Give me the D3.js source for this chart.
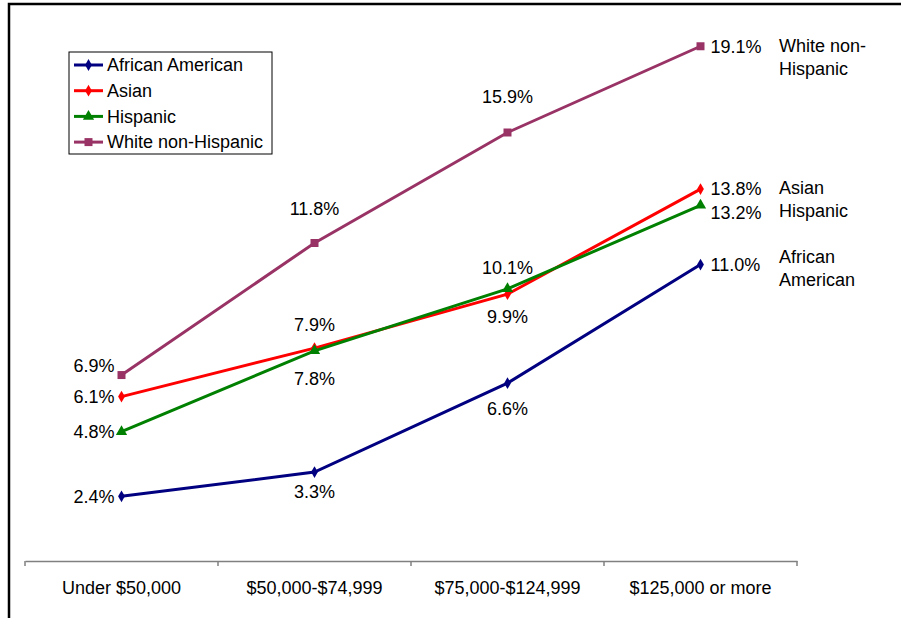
<html>
<script src="https://d3js.org/d3.v7.min.js"></script>
<style>
  body { margin: 0; background: #fff; }
  text { font-family: "Liberation Sans", Arial, sans-serif; font-size: 18px; fill: #000; }
</style>
<body>
<svg width="901" height="618"></svg>
<script>
var categories = ["Under $50,000", "$50,000-$74,999", "$75,000-$124,999", "$125,000 or more"];
var seriesNames = ["African American", "Asian", "Hispanic", "White non-Hispanic"];
var africanAmerican = [2.4, 3.3, 6.6, 11.0];
var asian = [6.1, 7.9, 9.9, 13.8];
var hispanic = [4.8, 7.8, 10.1, 13.2];
var white = [6.9, 11.8, 15.9, 19.1];
var endNames = [["African", "American"], ["Asian"], ["Hispanic"], ["White non-", "Hispanic"]];

var colors = ["#000080", "#ff0000", "#008000", "#993366"];
var symbols = [d3.symbolDiamond, d3.symbolDiamond, d3.symbolTriangle, d3.symbolSquare];
var symSize = [40, 40, 55, 64];
var values = [africanAmerican, asian, hispanic, white];

// per point label placement (dy from point)
var labelDy = [
  [0, 20, 26, 0],
  [0, -23, 23, 0],
  [0, 28, -21, 0],
  [-9, -34, -36, 0]
];
var endDy = [0, 0, 7, 0];
var nameDy = [-8, -1, 5, -1];

var svg = d3.select("svg");

// frame
svg.append("path").attr("d", "M9,618V4H901").attr("fill", "none").attr("stroke", "#000").attr("stroke-width", 2.5);

var x = d3.scaleBand().domain(categories).range([25, 797]);
var y = d3.scaleLinear().domain([0, 20]).range([561, 22]);

// axis
var ax = svg.append("g").attr("transform", "translate(0,561)")
  .call(d3.axisBottom(x).tickSize(0).tickPadding(20));
ax.select(".domain").attr("stroke", "#808080").attr("stroke-width", 1.5);
ax.selectAll("text").style("font-family", "Liberation Sans, Arial, sans-serif").style("font-size", "18px").attr("fill", "#000");
var bounds = categories.map(function(c) { return x(c); }).concat([x(categories[3]) + x.bandwidth()]);
ax.selectAll(".bt").data(bounds).enter().append("line")
  .attr("x1", function(d) { return d; }).attr("x2", function(d) { return d; })
  .attr("y1", 0).attr("y2", 5).attr("stroke", "#808080").attr("stroke-width", 1.5);

var cx = function(i) { return x(categories[i]) + x.bandwidth() / 2; };
var line = d3.line().x(function(d, i) { return cx(i); }).y(function(d) { return y(d); });

values.forEach(function(vals, s) {
  svg.append("path").datum(vals).attr("d", line)
    .attr("fill", "none").attr("stroke", colors[s]).attr("stroke-width", 3);
  svg.selectAll(".m" + s).data(vals).enter().append("path")
    .attr("transform", function(d, i) { return "translate(" + cx(i) + "," + y(d) + ")"; })
    .attr("d", d3.symbol().type(symbols[s]).size(symSize[s]))
    .attr("fill", colors[s]);
  vals.forEach(function(v, i) {
    var t = svg.append("text").text(v.toFixed(1) + "%").attr("dy", "0.35em");
    if (i === 0) {
      t.attr("x", cx(i) - 7).attr("y", y(v) + labelDy[s][i]).attr("text-anchor", "end");
    } else if (i === 3) {
      t.attr("x", cx(i) + 10).attr("y", y(v) + endDy[s]).attr("text-anchor", "start");
    } else {
      t.attr("x", cx(i)).attr("y", y(v) + labelDy[s][i]).attr("text-anchor", "middle");
    }
  });
  var nt = svg.append("text").attr("x", 779).attr("y", y(vals[3]) + nameDy[s]).attr("dy", "0.35em");
  endNames[s].forEach(function(n, k) {
    nt.append("tspan").attr("x", 779).attr("dy", k === 0 ? "0.35em" : "23").text(n);
  });
});

// legend
var lg = svg.append("g");
lg.append("rect").attr("x", 69).attr("y", 52).attr("width", 203).attr("height", 102)
  .attr("fill", "#fff").attr("stroke", "#000").attr("stroke-width", 1);
seriesNames.forEach(function(n, s) {
  var ly = 65 + s * 25.7;
  lg.append("line").attr("x1", 74).attr("x2", 103).attr("y1", ly).attr("y2", ly)
    .attr("stroke", colors[s]).attr("stroke-width", 3);
  lg.append("path").attr("transform", "translate(88.5," + ly + ")")
    .attr("d", d3.symbol().type(symbols[s]).size(symSize[s])).attr("fill", colors[s]);
  lg.append("text").attr("x", 107).attr("y", ly).attr("dy", "0.35em").text(n);
});
</script>
</body>
</html>
